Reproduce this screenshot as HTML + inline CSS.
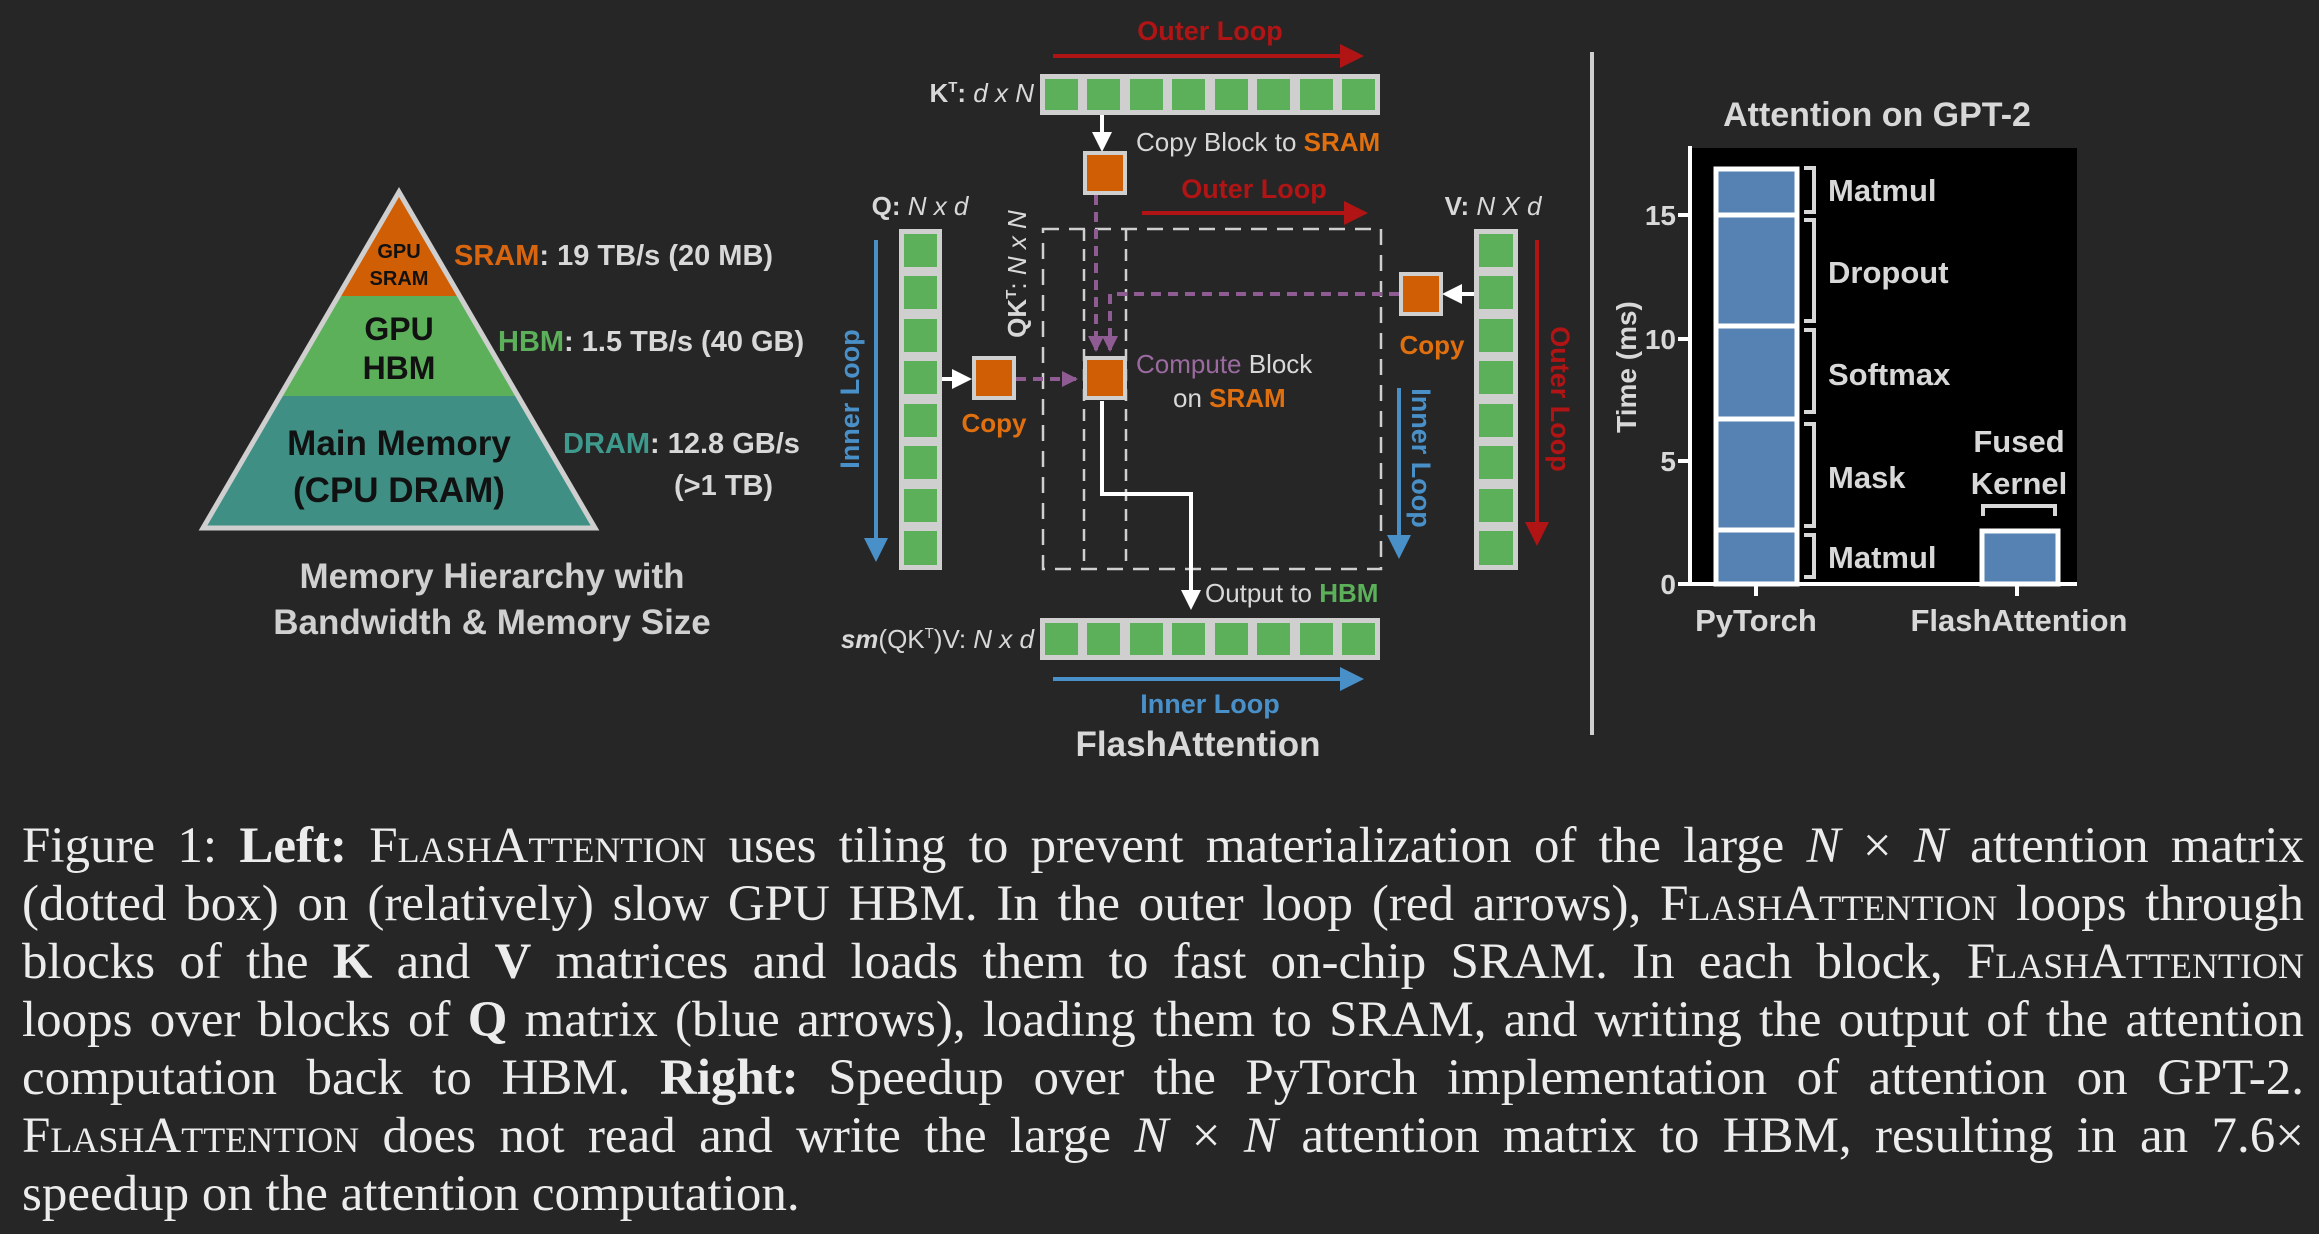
<!DOCTYPE html>
<html><head><meta charset="utf-8">
<style>
html,body{margin:0;padding:0;background:#262626;}
body{width:2319px;height:1234px;overflow:hidden;position:relative;}
svg{position:absolute;left:0;top:0;}
.cap{position:absolute;left:22px;width:2282px;font-family:"Liberation Serif",serif;font-size:51px;color:#ececec;line-height:58px;}
.cap div{height:58px;text-align:justify;text-align-last:justify;white-space:nowrap;}
.cap div.last{text-align-last:left;}
.sc{font-variant:small-caps;}
b{font-weight:bold;}
</style></head><body>
<svg width="2319" height="780" viewBox="0 0 2319 780" font-family="Liberation Sans, sans-serif">
<defs>
<marker id="ar" markerWidth="6" markerHeight="6" refX="5" refY="3" orient="auto" markerUnits="strokeWidth"><path d="M0,0 L6,3 L0,6 Z" fill="#b01414"/></marker>
<marker id="ab" markerWidth="6" markerHeight="6" refX="5" refY="3" orient="auto" markerUnits="strokeWidth"><path d="M0,0 L6,3 L0,6 Z" fill="#4a90c8"/></marker>
<marker id="aw" markerWidth="5" markerHeight="5" refX="4" refY="2.5" orient="auto" markerUnits="strokeWidth"><path d="M0,0 L5,2.5 L0,5 Z" fill="#ffffff"/></marker>
<marker id="ap" markerWidth="4" markerHeight="4" refX="3.5" refY="2" orient="auto" markerUnits="strokeWidth"><path d="M0,0 L4,2 L0,4 Z" fill="#8e5c93"/></marker>
</defs>
<!-- Pyramid -->
<polygon points="399,192 595,528 203,528" fill="#3f8f84"/>
<polygon points="339,296 459,296 518,396 280,396" fill="#5cb05a"/>
<polygon points="399,192 459,296 339,296" fill="#cf5e05"/>
<polygon points="399,192 595,528 203,528" fill="none" stroke="#cfcfcf" stroke-width="5"/>
<g font-weight="bold" fill="#111" text-anchor="middle">
<text x="399" y="258" font-size="20">GPU</text>
<text x="399" y="285" font-size="20">SRAM</text>
<text x="399" y="340" font-size="32">GPU</text>
<text x="399" y="379" font-size="32">HBM</text>
<text x="399" y="455" font-size="35">Main Memory</text>
<text x="399" y="502" font-size="35">(CPU DRAM)</text>
</g>
<g font-size="29" font-weight="bold" fill="#d8d8d8">
<text x="454" y="265"><tspan fill="#d9650f">SRAM</tspan>: 19 TB/s (20 MB)</text>
<text x="498" y="351"><tspan fill="#5cb05a">HBM</tspan>: 1.5 TB/s (40 GB)</text>
<text x="563" y="453"><tspan fill="#3f9a8e">DRAM</tspan>: 12.8 GB/s</text>
<text x="674" y="495">(&gt;1 TB)</text>
</g>
<g font-size="35" font-weight="bold" fill="#d0d0d0" text-anchor="middle">
<text x="492" y="588">Memory Hierarchy with</text>
<text x="492" y="634">Bandwidth &amp; Memory Size</text>
</g>

<!-- FlashAttention middle -->
<g font-size="27" font-weight="bold" fill="#b01414" text-anchor="middle">
<text x="1210" y="40">Outer Loop</text>
<text x="1254" y="198">Outer Loop</text>
</g>
<line x1="1053" y1="56" x2="1360" y2="56" stroke="#b01414" stroke-width="4" marker-end="url(#ar)"/>
<line x1="1142" y1="213" x2="1364" y2="213" stroke="#b01414" stroke-width="4" marker-end="url(#ar)"/>
<rect x="1040" y="74" width="340" height="41" fill="#cfcfcf"/>
<g fill="#5cb05a">
<rect x="1045" y="79" width="33" height="31"/><rect x="1087" y="79" width="33" height="31"/><rect x="1130" y="79" width="33" height="31"/><rect x="1172" y="79" width="33" height="31"/><rect x="1215" y="79" width="33" height="31"/><rect x="1257" y="79" width="33" height="31"/><rect x="1300" y="79" width="33" height="31"/><rect x="1342" y="79" width="33" height="31"/>
</g>
<rect x="1040" y="618" width="340" height="42" fill="#cfcfcf"/>
<g fill="#5cb05a">
<rect x="1045" y="623" width="33" height="32"/><rect x="1087" y="623" width="33" height="32"/><rect x="1130" y="623" width="33" height="32"/><rect x="1172" y="623" width="33" height="32"/><rect x="1215" y="623" width="33" height="32"/><rect x="1257" y="623" width="33" height="32"/><rect x="1300" y="623" width="33" height="32"/><rect x="1342" y="623" width="33" height="32"/>
</g>
<rect x="899" y="229" width="43" height="341" fill="#cfcfcf"/>
<g fill="#5cb05a">
<rect x="904" y="234" width="33" height="33"/><rect x="904" y="276" width="33" height="33"/><rect x="904" y="319" width="33" height="33"/><rect x="904" y="361" width="33" height="33"/><rect x="904" y="404" width="33" height="33"/><rect x="904" y="446" width="33" height="33"/><rect x="904" y="489" width="33" height="33"/><rect x="904" y="531" width="33" height="34"/>
</g>
<rect x="1474" y="229" width="44" height="341" fill="#cfcfcf"/>
<g fill="#5cb05a">
<rect x="1479" y="234" width="34" height="33"/><rect x="1479" y="276" width="34" height="33"/><rect x="1479" y="319" width="34" height="33"/><rect x="1479" y="361" width="34" height="33"/><rect x="1479" y="404" width="34" height="33"/><rect x="1479" y="446" width="34" height="33"/><rect x="1479" y="489" width="34" height="33"/><rect x="1479" y="531" width="34" height="34"/>
</g>
<rect x="1043" y="229" width="338" height="340" fill="none" stroke="#cfcfcf" stroke-width="2.5" stroke-dasharray="16,10"/>
<line x1="1084" y1="229" x2="1084" y2="569" stroke="#cfcfcf" stroke-width="2.5" stroke-dasharray="12,8"/>
<line x1="1126" y1="229" x2="1126" y2="569" stroke="#cfcfcf" stroke-width="2.5" stroke-dasharray="12,8"/>
<line x1="1102" y1="115" x2="1102" y2="148" stroke="#fff" stroke-width="4" marker-end="url(#aw)"/>
<line x1="942" y1="379" x2="968" y2="379" stroke="#fff" stroke-width="4" marker-end="url(#aw)"/>
<line x1="1474" y1="294" x2="1446" y2="294" stroke="#fff" stroke-width="4" marker-end="url(#aw)"/>
<polyline points="1102,401 1102,494 1191,494 1191,606" fill="none" stroke="#fff" stroke-width="4" marker-end="url(#aw)"/>
<line x1="1096" y1="195" x2="1096" y2="350" stroke="#8e5c93" stroke-width="4" stroke-dasharray="10,7" marker-end="url(#ap)"/>
<polyline points="1399,294 1110,294 1110,350" fill="none" stroke="#8e5c93" stroke-width="4" stroke-dasharray="10,7" marker-end="url(#ap)"/>
<line x1="1016" y1="379" x2="1076" y2="379" stroke="#8e5c93" stroke-width="4" stroke-dasharray="10,7" marker-end="url(#ap)"/>
<g fill="#cf5e05" stroke="#cfcfcf" stroke-width="4">
<rect x="1085" y="153" width="40" height="40"/>
<rect x="974" y="358" width="40" height="40"/>
<rect x="1085" y="358" width="40" height="40"/>
<rect x="1401" y="274" width="40" height="40"/>
</g>
<g font-size="26" fill="#d8d8d8">
<text x="1034" y="102" text-anchor="end"><tspan font-weight="bold">K<tspan font-size="15" dy="-10">T</tspan></tspan><tspan dy="10" font-weight="bold">:</tspan><tspan font-style="italic"> d x N</tspan></text>
<text x="1136" y="151">Copy Block to <tspan fill="#e0700f" font-weight="bold">SRAM</tspan></text>
<text x="920" y="215" text-anchor="middle"><tspan font-weight="bold">Q:</tspan><tspan font-style="italic"> N x d</tspan></text>
<text x="1493" y="215" text-anchor="middle"><tspan font-weight="bold">V:</tspan><tspan font-style="italic"> N X d</tspan></text>
<text x="1136" y="373"><tspan fill="#9a6aa0">Compute</tspan> Block</text>
<text x="1173" y="407">on <tspan fill="#e0700f" font-weight="bold">SRAM</tspan></text>
<text x="1205" y="602">Output to <tspan fill="#5cb05a" font-weight="bold">HBM</tspan></text>
<text x="1034" y="648" text-anchor="end"><tspan font-style="italic" font-weight="bold">sm</tspan>(QK<tspan font-size="15" dy="-10">T</tspan><tspan dy="10">)V:</tspan><tspan font-style="italic"> N x d</tspan></text>
<text transform="translate(1026,274) rotate(-90)" text-anchor="middle"><tspan font-weight="bold">QK<tspan font-size="15" dy="-10">T</tspan></tspan><tspan dy="10">:</tspan><tspan font-style="italic"> N x N</tspan></text>
</g>
<g font-size="26" font-weight="bold" fill="#e0700f" text-anchor="middle">
<text x="994" y="432">Copy</text>
<text x="1432" y="354">Copy</text>
</g>
<line x1="876" y1="240" x2="876" y2="558" stroke="#4a90c8" stroke-width="4" marker-end="url(#ab)"/>
<line x1="1399" y1="388" x2="1399" y2="555" stroke="#4a90c8" stroke-width="4" marker-end="url(#ab)"/>
<line x1="1053" y1="679" x2="1360" y2="679" stroke="#4a90c8" stroke-width="4" marker-end="url(#ab)"/>
<line x1="1537" y1="240" x2="1537" y2="542" stroke="#b01414" stroke-width="4" marker-end="url(#ar)"/>
<g font-size="27" font-weight="bold" text-anchor="middle">
<text transform="translate(859,399) rotate(-90)" fill="#4a90c8">Inner Loop</text>
<text transform="translate(1412,458) rotate(90)" fill="#4a90c8">Inner Loop</text>
<text transform="translate(1551,399) rotate(90)" fill="#b01414">Outer Loop</text>
<text x="1210" y="713" fill="#4a90c8">Inner Loop</text>
</g>
<text x="1198" y="756" font-size="35" font-weight="bold" fill="#d8d8d8" text-anchor="middle">FlashAttention</text>

<line x1="1592" y1="52" x2="1592" y2="735" stroke="#cfcfcf" stroke-width="4"/>

<!-- Chart -->
<text x="1877" y="126" font-size="34" font-weight="bold" fill="#d8d8d8" text-anchor="middle">Attention on GPT-2</text>
<rect x="1690" y="148" width="387" height="436" fill="#000"/>
<line x1="1690" y1="146" x2="1690" y2="586" stroke="#fff" stroke-width="4"/>
<line x1="1688" y1="584" x2="2077" y2="584" stroke="#fff" stroke-width="4"/>
<g stroke="#fff" stroke-width="4">
<line x1="1678" y1="215" x2="1690" y2="215"/><line x1="1678" y1="339" x2="1690" y2="339"/><line x1="1678" y1="461" x2="1690" y2="461"/><line x1="1678" y1="584" x2="1690" y2="584"/>
<line x1="1756" y1="584" x2="1756" y2="596"/><line x1="2017" y1="584" x2="2017" y2="596"/>
</g>
<g font-size="28" font-weight="bold" fill="#d8d8d8" text-anchor="end">
<text x="1676" y="225">15</text><text x="1676" y="349">10</text><text x="1676" y="471">5</text><text x="1676" y="594">0</text>
</g>
<text transform="translate(1636,367) rotate(-90)" font-size="28" font-weight="bold" fill="#d8d8d8" text-anchor="middle">Time (ms)</text>
<rect x="1716" y="169" width="81" height="415" fill="#5682b3" stroke="#fff" stroke-width="5"/>
<g stroke="#fff" stroke-width="5">
<line x1="1716" y1="215" x2="1797" y2="215"/><line x1="1716" y1="326" x2="1797" y2="326"/><line x1="1716" y1="419" x2="1797" y2="419"/><line x1="1716" y1="530" x2="1797" y2="530"/>
</g>
<rect x="1982" y="531" width="76" height="53" fill="#5682b3" stroke="#fff" stroke-width="5"/>
<g fill="none" stroke="#d8d8d8" stroke-width="4">
<polyline points="1804,168 1814,168 1814,212 1804,212"/>
<polyline points="1804,220 1814,220 1814,321 1804,321"/>
<polyline points="1804,330 1814,330 1814,412 1804,412"/>
<polyline points="1804,424 1814,424 1814,526 1804,526"/>
<polyline points="1804,535 1814,535 1814,577 1804,577"/>
<polyline points="1983,516 1983,506 2055,506 2055,516"/>
</g>
<g font-size="31" font-weight="bold" fill="#d8d8d8">
<text x="1828" y="201">Matmul</text>
<text x="1828" y="283">Dropout</text>
<text x="1828" y="385">Softmax</text>
<text x="1828" y="488">Mask</text>
<text x="1828" y="568">Matmul</text>
<text x="2019" y="452" text-anchor="middle">Fused</text>
<text x="2019" y="494" text-anchor="middle">Kernel</text>
<text x="1756" y="631" text-anchor="middle">PyTorch</text>
<text x="2019" y="631" text-anchor="middle">FlashAttention</text>
</g>
</svg>

<div class="cap" style="top:817px;">
<div>Figure 1: <b>Left:</b> <span class="sc">FlashAttention</span> uses tiling to prevent materialization of the large <i>N</i> × <i>N</i> attention matrix</div>
<div>(dotted box) on (relatively) slow GPU HBM. In the outer loop (red arrows), <span class="sc">FlashAttention</span> loops through</div>
<div>blocks of the <b>K</b> and <b>V</b> matrices and loads them to fast on-chip SRAM. In each block, <span class="sc">FlashAttention</span></div>
<div>loops over blocks of <b>Q</b> matrix (blue arrows), loading them to SRAM, and writing the output of the attention</div>
<div>computation back to HBM. <b>Right:</b> Speedup over the PyTorch implementation of attention on GPT-2.</div>
<div><span class="sc">FlashAttention</span> does not read and write the large <i>N</i> × <i>N</i> attention matrix to HBM, resulting in an 7.6×</div>
<div class="last">speedup on the attention computation.</div>
</div>
</body></html>
